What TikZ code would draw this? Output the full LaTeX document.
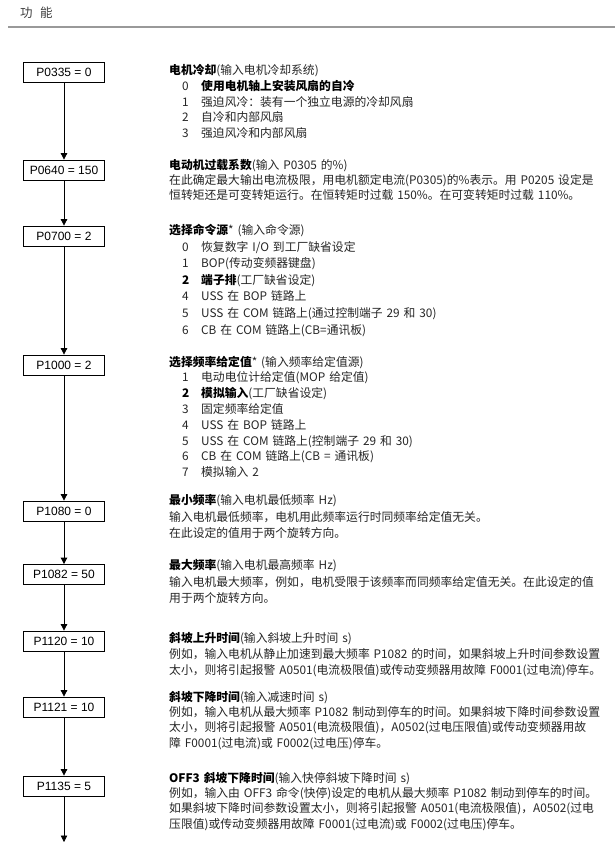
\documentclass[tikz,border=0pt]{standalone}
\usepackage{fontspec}
\setmainfont{Noto Sans CJK SC}
\newfontfamily\boxfont{Liberation Sans}
\usetikzlibrary{arrows.meta}
\newcommand\itm[2]{\makebox[32pt][l]{\hspace*{13pt}#1}#2}
\tikzset{
  pbox/.style={draw, line width=0.8pt, minimum width=81pt, minimum height=20pt, inner sep=0pt, font=\boxfont\fontsize{12}{14}\selectfont},
  blk/.style={anchor=base west, inner sep=0pt, text width=445pt, align=left, text=black!85, font=\fontsize{11.8}{15.8}\selectfont},
  flow/.style={line width=0.8pt, -{Triangle[width=6.5pt,length=6.5pt]}}
}
\begin{document}
\begin{tikzpicture}[x=1pt,y=-1pt]
\useasboundingbox (0,0) rectangle (615,865);
\fill[white] (0,0) rectangle (615,865);
% header
\node[anchor=base west, inner sep=0pt, text=black!75, font=\fontsize{12.5}{14}\selectfont] (hdr) at (20,17.5) {功\hspace{0.6em}能};
\draw[line width=2pt, black!40] (8,26.5) -- (615,26.5);
% boxes
\node[pbox] (b1) at (64,72) {P0335 = 0};
\node[pbox] (b2) at (64,170) {P0640 = 150};
\node[pbox] (b3) at (64,236) {P0700 = 2};
\node[pbox] (b4) at (64,365) {P1000 = 2};
\node[pbox] (b5) at (64,511) {P1080 = 0};
\node[pbox] (b6) at (64,574.5) {P1082 = 50};
\node[pbox] (b7) at (64,641) {P1120 = 10};
\node[pbox] (b8) at (64,707) {P1121 = 10};
\node[pbox] (b9) at (64,786) {P1135 = 5};
\coordinate (end) at (64,842);
\draw[flow] (b1) -- (b2);
\draw[flow] (b2) -- (b3);
\draw[flow] (b3) -- (b4);
\draw[flow] (b4) -- (b5);
\draw[flow] (b5) -- (b6);
\draw[flow] (b6) -- (b7);
\draw[flow] (b7) -- (b8);
\draw[flow] (b8) -- (b9);
\draw[flow] (b9) -- (end);
% texts
\node[blk] (t1) at (169,74.5) {\textbf{\color{black}电机冷却}(输入电机冷却系统)\\
\itm{0}{\textbf{\color{black}使用电机轴上安装风扇的自冷}}\\
\itm{1}{强迫风冷：装有一个独立电源的冷却风扇}\\
\itm{2}{自冷和内部风扇}\\
\itm{3}{强迫风冷和内部风扇}};
\node[blk, font=\fontsize{11.8}{15}\selectfont] (t2) at (169,169.5) {\textbf{\color{black}电动机过载系数}(输入 P0305 的\%)\\
在此确定最大输出电流极限，用电机额定电流(P0305)的\%表示。用 P0205 设定是\\
恒转矩还是可变转矩运行。在恒转矩时过载 150\%。在可变转矩时过载 110\%。};
\node[blk, font=\fontsize{11.8}{16.6}\selectfont] (t3) at (169,234.5) {\textbf{\color{black}选择命令源}* (输入命令源)\\
\itm{0}{恢复数字 I/O 到工厂缺省设定}\\
\itm{1}{BOP(传动变频器键盘)}\\
\itm{\textbf{\color{black}2}}{\textbf{\color{black}端子排}(工厂缺省设定)}\\
\itm{4}{USS 在 BOP 链路上}\\
\itm{5}{USS 在 COM 链路上(通过控制端子 29 和 30)}\\
\itm{6}{CB 在 COM 链路上(CB=通讯板)}};
\node[blk] (t4) at (169,366) {\textbf{\color{black}选择频率给定值}* (输入频率给定值源)\\
\itm{1}{电动电位计给定值(MOP 给定值)}\\
\itm{\textbf{\color{black}2}}{\textbf{\color{black}模拟输入}(工厂缺省设定)}\\
\itm{3}{固定频率给定值}\\
\itm{4}{USS 在 BOP 链路上}\\
\itm{5}{USS 在 COM 链路上(控制端子 29 和 30)}\\
\itm{6}{CB 在 COM 链路上(CB = 通讯板)}\\
\itm{7}{模拟输入 2}};
\node[blk, font=\fontsize{11.8}{16.5}\selectfont] (t5) at (169,504.5) {\textbf{\color{black}最小频率}(输入电机最低频率 Hz)\\
输入电机最低频率，电机用此频率运行时同频率给定值无关。\\
在此设定的值用于两个旋转方向。};
\node[blk, font=\fontsize{11.8}{16.5}\selectfont] (t6) at (169,569.5) {\textbf{\color{black}最大频率}(输入电机最高频率 Hz)\\
输入电机最大频率，例如，电机受限于该频率而同频率给定值无关。在此设定的值\\
用于两个旋转方向。};
\node[blk] (t7) at (169,642.5) {\textbf{\color{black}斜坡上升时间}(输入斜坡上升时间 s)\\
例如，输入电机从静止加速到最大频率 P1082 的时间，如果斜坡上升时间参数设置\\
太小，则将引起报警 A0501(电流极限值)或传动变频器用故障 F0001(过电流)停车。};
\node[blk, font=\fontsize{11.8}{15.2}\selectfont] (t8) at (169,701.5) {\textbf{\color{black}斜坡下降时间}(输入减速时间 s)\\
例如，输入电机从最大频率 P1082 制动到停车的时间。如果斜坡下降时间参数设置\\
太小，则将引起报警 A0501(电流极限值)，A0502(过电压限值)或传动变频器用故\\
障 F0001(过电流)或 F0002(过电压)停车。};
\node[blk, font=\fontsize{11.8}{15.2}\selectfont] (t9) at (169,782.5) {\textbf{\color{black}OFF3 斜坡下降时间}(输入快停斜坡下降时间 s)\\
例如，输入由 OFF3 命令(快停)设定的电机从最大频率 P1082 制动到停车的时间。\\
如果斜坡下降时间参数设置太小，则将引起报警 A0501(电流极限值)，A0502(过电\\
压限值)或传动变频器用故障 F0001(过电流)或 F0002(过电压)停车。};
\end{tikzpicture}
\end{document}
